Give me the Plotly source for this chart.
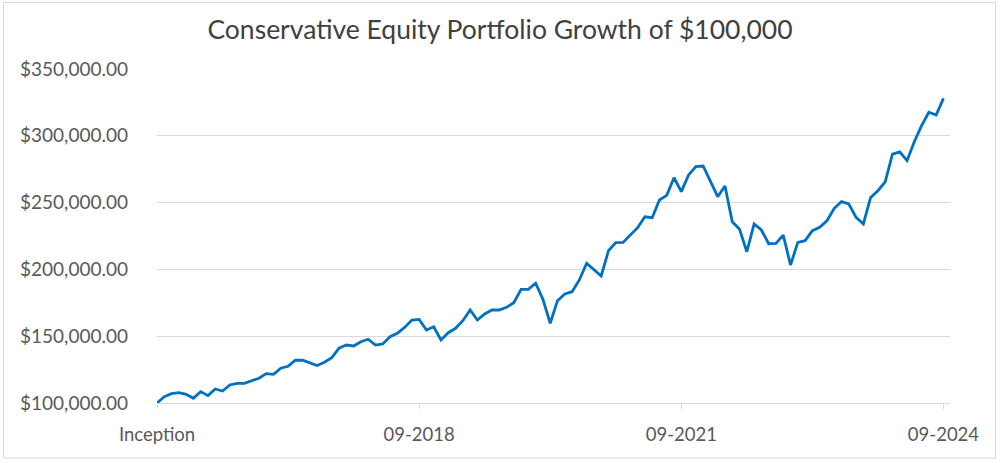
import plotly.graph_objects as go

values_k = [
    100, 104.7, 107, 107.7, 106.5, 103.5, 108.5, 105.5, 110.5, 109,
    113.5, 114.7, 114.7, 116.5, 118.5, 122, 121.5, 126, 127.5, 132,
    132, 130, 128, 130.5, 134, 141, 143.4, 142.7, 145.9, 147.7,
    143.4, 144.2, 149.6, 152.1, 156.6, 162.1, 162.6, 154.6, 157.1, 147.2,
    152.6, 155.9, 161.6, 169.6, 162.1, 166.6, 169.6, 169.6, 171.6, 175.1,
    185.1, 185.1, 189.6, 177.6, 159.7, 176.6, 181.6, 183.3, 192.1, 204.6,
    200.1, 195.1, 214, 220, 220.2, 225.7, 231.2, 239.4, 238.7, 251.9,
    255.4, 268.6, 258.2, 270.7, 276.9, 277.4, 265.6, 254.4, 262.4, 235.7,
    230, 213.2, 234, 229.5, 219.2, 219.5, 225.7, 203.3, 220.2, 221.5,
    229, 231.5, 236.4, 245.7, 250.7, 249, 239, 234, 253.9, 258.9,
    265.6, 286.3, 287.9, 281.4, 295.6, 307.6, 317.6, 315.6, 328,
]
values = [v * 1000 for v in values_k]
months = list(range(len(values)))

tick_positions = [0, 36, 72, 108]
tick_labels = ["Inception", "09-2018", "09-2021", "09-2024"]
y_ticks = [100000, 150000, 200000, 250000, 300000, 350000]
y_labels = ["$100,000.00", "$150,000.00", "$200,000.00", "$250,000.00", "$300,000.00", "$350,000.00"]

FONT = "Lato"
fig = go.Figure()
fig.add_trace(go.Scatter(
    x=months, y=values, mode="lines",
    line=dict(color="#0070C0", width=2.8),
    hoverinfo="skip", showlegend=False,
))

L, R, T, B = 157, 50, 69, 60
W, H = 1000, 463
pw, ph = W - L - R, H - T - B

def px_x(p):
    return (p - L) / pw

def px_y(p):
    return (H - B - p) / ph

fig.add_shape(type="rect", xref="paper", yref="paper",
              x0=px_x(3.5), x1=px_x(995.5), y0=px_y(458), y1=px_y(2.5),
              line=dict(color="#d9d9d9", width=1), fillcolor="rgba(0,0,0,0)", layer="below")

fig.update_layout(
    width=W, height=H,
    margin=dict(l=L, r=R, t=T, b=B),
    paper_bgcolor="white", plot_bgcolor="white",
    title=dict(text="Conservative Equity Portfolio Growth of $100,000",
               x=0.5, xref="container", xanchor="center",
               y=1 - 30 / H, yref="container", yanchor="middle",
               font=dict(family=FONT, size=26.5, color="#404040")),
    font=dict(family=FONT, size=18, color="#595959"),
    xaxis=dict(range=[0, 108.9], tickvals=tick_positions, ticktext=tick_labels,
               showgrid=False, zeroline=False, showline=True, linecolor="#d9d9d9", linewidth=1,
               ticks="outside", ticklen=5, tickcolor="#d9d9d9", tickwidth=1,
               ticklabelstandoff=10,
               tickfont=dict(family=FONT, size=18.5, color="#595959")),
    yaxis=dict(range=[100000, 350000], tickvals=y_ticks, ticktext=y_labels,
               showgrid=True, gridcolor="#d9d9d9", gridwidth=1, zeroline=False,
               showline=False, ticks="", ticklabelstandoff=28,
               tickfont=dict(family=FONT, size=19, color="#595959")),
)

fig.write_html("out.html",
               config={"displayModeBar": False, "staticPlot": True},
               post_script="document.body.style.margin='0';document.body.style.overflow='hidden';")
